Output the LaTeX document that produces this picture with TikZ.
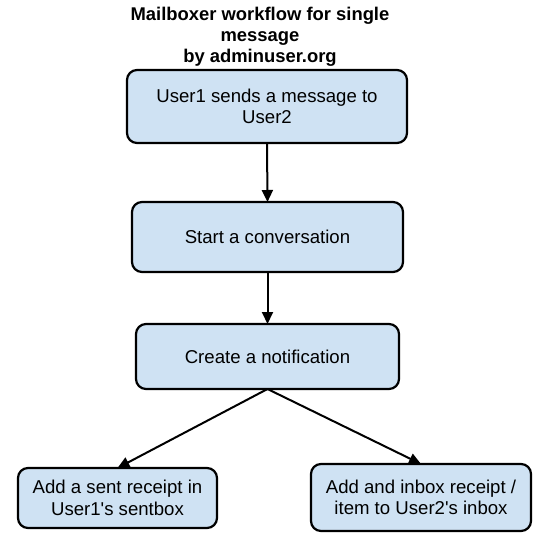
\documentclass[tikz,border=0pt]{standalone}
\usepackage{fontspec}
\setmainfont{Liberation Sans}
\usetikzlibrary{arrows.meta}
\definecolor{boxblue}{HTML}{CFE2F3}
\begin{document}
\begin{tikzpicture}[y=1pt, x=1pt, yscale=-1.000000, xscale=1.000000, inner sep=0pt, outer sep=0pt,
  stepbox/.style={draw=black, fill=boxblue, line width=2.2pt, rounded corners=10pt, align=center,
    font=\fontsize{18.6}{21.5}\selectfont},
  flow/.style={draw=black, line join=miter, line cap=butt, line width=2pt,
    -{Triangle[length=12pt,width=11pt]}}]
  \useasboundingbox (0,0) rectangle (541,541);
  \path[fill=white] (0,0) rectangle (541,541);
    \path (260,7.5) node[anchor=north, align=center,
      font=\fontsize{18.4}{21}\selectfont\bfseries] (text3101)
      {Mailboxer workflow for single\\message\\by adminuser.org};
    \path (267,106.5) node[stepbox, minimum width=280pt, minimum height=73pt] (rect3110)
      {User1 sends a message to\\User2};
    \path (267.5,237) node[stepbox, minimum width=271pt, minimum height=70pt] (rect3112)
      {Start a conversation};
    \path (267.5,356.5) node[stepbox, minimum width=263pt, minimum height=65pt] (rect3114)
      {Create a notification};
    \path (117.5,498) node[stepbox, minimum width=199pt, minimum height=60pt] (rect3116)
      {Add a sent receipt in\\User1\textquotesingle s sentbox};
    \path (421,497.5) node[stepbox, minimum width=220pt, minimum height=67pt] (rect3118)
      {Add and inbox receipt /\\item to User2\textquotesingle s inbox};
    \path[flow] (rect3110.south) -- (rect3112.north);
    \path[flow] (rect3112.south) -- (rect3114.north);
    \path[flow] (rect3114.south) -- (rect3116.north);
    \path[flow] (rect3114.south) -- (rect3118.north);
\end{tikzpicture}
\end{document}
